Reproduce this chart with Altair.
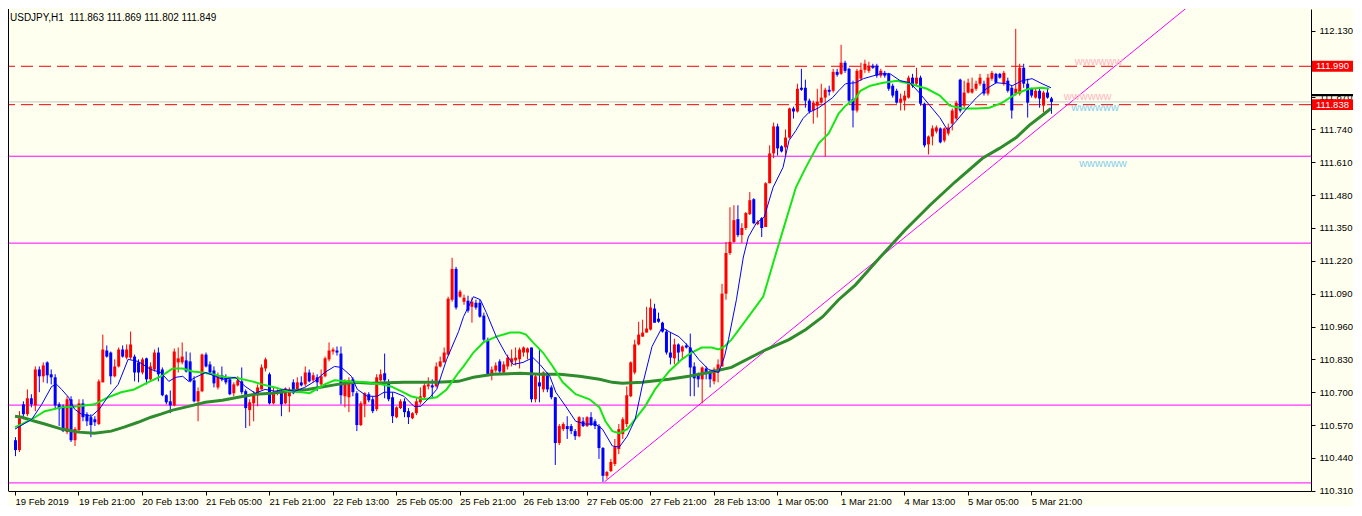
import altair as alt
import pandas as pd

# ---------------- data (USDJPY H1, bar 0 = 19 Feb 2019 05:00) ----------------
OPEN = [
110.510,110.471,110.652,110.613,110.676,110.648,110.790,110.763,110.818,110.771,
110.759,110.652,110.644,110.542,110.672,110.510,110.550,110.656,110.613,110.601,
110.593,110.574,110.739,110.865,110.857,110.763,110.802,110.869,110.837,110.837,
110.841,110.818,110.778,110.834,110.751,110.790,110.857,110.790,110.688,110.664,
110.648,110.818,110.818,110.826,110.822,110.747,110.664,110.704,110.849,110.810,
110.786,110.719,110.767,110.759,110.751,110.696,110.727,110.743,110.704,110.629,
110.656,110.688,110.711,110.794,110.771,110.656,110.696,110.700,110.656,110.684,
110.739,110.700,110.739,110.731,110.778,110.747,110.759,110.731,110.763,110.830,
110.861,110.865,110.853,110.684,110.680,110.751,110.696,110.570,110.652,110.692,
110.672,110.633,110.747,110.775,110.739,110.680,110.601,110.637,110.664,110.625,
110.597,110.617,110.660,110.680,110.723,110.727,110.723,110.802,110.818,110.849,
111.066,111.188,111.078,111.058,111.062,111.038,111.054,111.054,111.003,110.908,
110.771,110.786,110.822,110.778,110.802,110.818,110.826,110.830,110.857,110.857,
110.877,110.672,110.739,110.711,110.767,110.719,110.680,110.499,110.554,110.566,
110.566,110.546,110.526,110.585,110.566,110.601,110.585,110.566,110.479,110.369,
110.388,110.416,110.475,110.534,110.574,110.684,110.778,110.889,110.920,110.936,
110.948,111.031,110.991,110.975,110.940,110.857,110.834,110.889,110.861,110.885,
110.877,110.802,110.771,110.751,110.794,110.782,110.743,110.778,110.802,111.090,
111.251,111.295,111.385,111.322,111.350,111.405,111.464,111.365,111.389,111.354,
111.527,111.645,111.752,111.673,111.669,111.708,111.823,111.811,111.905,111.905,
111.854,111.815,111.834,111.846,111.866,111.897,111.893,111.968,111.960,112.004,
111.980,111.860,111.815,111.941,111.976,111.972,111.992,111.992,111.953,111.964,
111.960,111.913,111.893,111.846,111.854,111.866,111.945,111.921,111.945,111.842,
111.681,111.712,111.732,111.744,111.696,111.724,111.763,111.783,111.937,111.834,
111.886,111.886,111.901,111.921,111.921,111.882,111.941,111.960,111.960,111.921,
111.933,111.905,111.882,111.882,111.984,111.921,111.901,111.866,111.893,111.834,
111.886,111.863]
HIGH = [
110.522,110.625,110.664,110.711,110.692,110.802,110.802,110.818,110.822,110.790,
110.771,110.660,110.652,110.684,110.684,110.562,110.672,110.672,110.621,110.613,
110.605,110.751,110.928,110.885,110.861,110.830,110.877,110.885,110.889,110.940,
110.849,110.830,110.837,110.837,110.818,110.869,110.877,110.798,110.692,110.707,
110.873,110.877,110.897,110.861,110.857,110.763,110.719,110.853,110.857,110.822,
110.802,110.778,110.802,110.771,110.759,110.739,110.763,110.798,110.711,110.672,
110.704,110.731,110.810,110.837,110.778,110.719,110.711,110.711,110.719,110.719,
110.751,110.759,110.763,110.802,110.790,110.778,110.771,110.790,110.841,110.897,
110.877,110.881,110.881,110.751,110.759,110.759,110.704,110.664,110.700,110.700,
110.684,110.771,110.790,110.853,110.751,110.700,110.644,110.672,110.676,110.637,
110.621,110.680,110.719,110.743,110.759,110.751,110.818,110.841,110.877,111.078,
111.232,111.196,111.105,111.086,111.082,111.074,111.066,111.066,111.015,110.916,
110.802,110.818,110.830,110.822,110.849,110.869,110.877,110.877,110.881,110.877,
110.877,110.771,110.869,110.782,110.778,110.727,110.680,110.574,110.581,110.605,
110.574,110.554,110.605,110.601,110.605,110.621,110.593,110.574,110.483,110.388,
110.436,110.515,110.574,110.601,110.723,110.822,110.908,110.979,110.987,111.038,
111.070,111.050,111.015,110.979,110.948,110.936,110.912,110.893,110.885,110.893,
110.932,110.818,110.778,110.802,110.802,110.786,110.798,110.830,111.129,111.295,
111.432,111.440,111.440,111.369,111.413,111.492,111.468,111.381,111.393,111.531,
111.677,111.767,111.763,111.677,111.740,111.826,111.830,111.921,111.980,111.937,
111.862,111.854,111.901,111.921,111.905,111.913,111.980,111.980,112.075,112.012,
111.984,111.933,111.980,112.004,112.016,112.008,112.000,112.000,111.980,111.972,
111.964,111.921,111.901,111.882,111.893,111.953,111.960,111.984,111.953,111.846,
111.716,111.756,111.756,111.748,111.748,111.763,111.823,111.854,111.941,111.933,
111.941,111.945,111.933,111.960,111.933,111.960,111.972,111.964,111.964,111.972,
111.945,111.913,112.138,112.000,112.000,111.941,111.905,111.901,111.901,111.893,
111.905,111.869]
LOW = [
110.447,110.463,110.593,110.605,110.640,110.625,110.700,110.739,110.735,110.731,
110.633,110.566,110.542,110.534,110.503,110.487,110.542,110.585,110.566,110.522,
110.566,110.570,110.739,110.837,110.731,110.759,110.798,110.837,110.830,110.830,
110.743,110.739,110.771,110.731,110.743,110.782,110.743,110.684,110.652,110.617,
110.644,110.778,110.810,110.778,110.739,110.660,110.585,110.700,110.798,110.771,
110.719,110.711,110.743,110.731,110.688,110.684,110.723,110.692,110.558,110.566,
110.585,110.644,110.711,110.782,110.652,110.652,110.688,110.605,110.652,110.621,
110.692,110.696,110.723,110.723,110.739,110.739,110.704,110.723,110.759,110.822,
110.849,110.845,110.652,110.640,110.621,110.684,110.546,110.566,110.601,110.660,
110.617,110.625,110.743,110.676,110.664,110.578,110.597,110.633,110.601,110.574,
110.593,110.609,110.652,110.676,110.711,110.680,110.719,110.798,110.818,110.845,
111.058,111.027,111.074,111.046,111.015,110.975,111.027,110.995,110.900,110.763,
110.747,110.778,110.771,110.771,110.790,110.802,110.806,110.794,110.841,110.830,
110.660,110.660,110.660,110.700,110.700,110.672,110.412,110.491,110.546,110.515,
110.534,110.511,110.522,110.562,110.562,110.566,110.554,110.436,110.345,110.357,
110.384,110.408,110.455,110.515,110.562,110.680,110.771,110.885,110.920,110.936,
110.944,110.975,110.975,110.936,110.849,110.810,110.810,110.814,110.830,110.873,
110.684,110.684,110.719,110.656,110.751,110.719,110.731,110.739,110.802,111.066,
111.243,111.291,111.314,111.291,111.342,111.401,111.365,111.361,111.314,111.354,
111.527,111.626,111.637,111.649,111.637,111.704,111.783,111.807,111.893,111.826,
111.803,111.763,111.787,111.842,111.633,111.874,111.886,111.949,111.956,111.964,
111.846,111.748,111.807,111.933,111.964,111.964,111.980,111.945,111.945,111.945,
111.893,111.866,111.842,111.815,111.815,111.862,111.905,111.913,111.834,111.669,
111.641,111.677,111.724,111.685,111.689,111.716,111.736,111.775,111.807,111.826,
111.882,111.882,111.893,111.913,111.874,111.874,111.933,111.921,111.941,111.913,
111.886,111.783,111.874,111.874,111.905,111.787,111.866,111.862,111.826,111.807,
111.862,111.802]
CLOSE = [
110.471,110.597,110.613,110.676,110.652,110.790,110.763,110.806,110.767,110.759,
110.648,110.633,110.546,110.672,110.510,110.554,110.656,110.601,110.585,110.570,
110.581,110.743,110.869,110.841,110.763,110.802,110.869,110.841,110.869,110.889,
110.778,110.778,110.830,110.751,110.802,110.857,110.771,110.688,110.660,110.648,
110.861,110.834,110.841,110.782,110.743,110.664,110.704,110.849,110.802,110.778,
110.735,110.763,110.751,110.739,110.692,110.731,110.747,110.700,110.637,110.660,
110.692,110.719,110.798,110.830,110.656,110.700,110.704,110.652,110.715,110.711,
110.696,110.739,110.727,110.778,110.743,110.767,110.739,110.763,110.834,110.865,
110.869,110.857,110.688,110.743,110.747,110.700,110.570,110.656,110.696,110.668,
110.625,110.759,110.771,110.747,110.672,110.605,110.640,110.664,110.621,110.601,
110.617,110.664,110.684,110.727,110.731,110.719,110.802,110.822,110.857,111.070,
111.188,111.035,111.098,111.074,111.023,111.058,111.035,110.999,110.908,110.771,
110.790,110.806,110.782,110.810,110.837,110.834,110.837,110.869,110.877,110.873,
110.672,110.763,110.723,110.778,110.711,110.680,110.499,110.566,110.574,110.554,
110.546,110.526,110.601,110.566,110.601,110.570,110.566,110.479,110.369,110.384,
110.424,110.483,110.554,110.593,110.688,110.818,110.889,110.928,110.936,110.952,
111.035,110.975,110.979,110.940,110.857,110.837,110.889,110.857,110.881,110.877,
110.798,110.755,110.751,110.798,110.778,110.751,110.790,110.810,111.090,111.251,
111.295,111.381,111.322,111.350,111.409,111.460,111.369,111.373,111.350,111.527,
111.645,111.752,111.665,111.653,111.708,111.823,111.811,111.901,111.897,111.854,
111.811,111.846,111.850,111.866,111.897,111.889,111.968,111.956,112.004,111.972,
111.854,111.815,111.972,111.976,112.000,111.992,111.984,111.953,111.972,111.953,
111.901,111.874,111.846,111.862,111.874,111.945,111.913,111.945,111.842,111.677,
111.712,111.744,111.748,111.689,111.744,111.748,111.815,111.846,111.815,111.886,
111.925,111.901,111.921,111.945,111.882,111.945,111.964,111.925,111.945,111.964,
111.893,111.815,111.901,111.984,111.921,111.846,111.874,111.893,111.862,111.886,
111.866,111.849]

# moving averages sampled along the picture (bar index, price)
MA_FAST_IDX = [0,4.25,6.75,9.25,10.5,11.75,13.5,15,16.75,19.25,21.25,23.5,26,28.5,31,34.25,36.75,38.75,40.5,42.25,
               43.75,45.5,48,50.5,52.25,55.5,58,60.5,63,65.5,68,70.5,73,75.5,78,80.5,82.25,84.75,86.25,88.75,
               91.25,93,95.5,98,100.5,102.25,104.75,106.25,108.75,111.75,113,115.5,117.25,118.75,121.25,123.75,125.5,128,130.5,132.25,
               134.75,136.25,138.75,141.25,143.75,146.25,148,150.5,152.25,154.25,156.25,158,160.5,163,164.75,167.25,169.75,172.25,174.75,177.25,
               178.75,179.75,181.75,183.5,184.75,186.75,188.75,191,193.5,195,196.75,198.5,200,202.5,204.25,206,207.5,209.25,211.75,213.75,
               218,220.5,223,225.5,228,230.5,233,235,237.25,239.75,242.25,244.75,247.25,249.75,251.25,253.75,256.25,258.75,261]
MA_FAST_VAL = [110.554,110.593,110.652,110.723,110.731,110.711,110.680,110.633,110.613,110.605,110.633,110.684,110.731,110.830,110.822,110.790,110.778,110.743,110.759,110.763,
               110.743,110.759,110.778,110.763,110.751,110.759,110.723,110.696,110.711,110.704,110.711,110.704,110.719,110.743,110.778,110.802,110.798,110.763,110.711,110.684,
               110.684,110.700,110.700,110.684,110.644,110.644,110.684,110.711,110.830,110.940,110.999,111.078,111.066,111.015,110.920,110.849,110.810,110.818,110.837,110.810,
               110.763,110.700,110.644,110.585,110.574,110.574,110.554,110.487,110.483,110.526,110.593,110.723,110.881,110.956,110.940,110.920,110.881,110.830,110.790,110.778,
               110.841,110.908,111.066,111.235,111.314,111.369,111.393,111.511,111.590,111.696,111.736,111.783,111.807,111.826,111.846,111.866,111.893,111.921,111.925,111.941,
               111.960,111.960,111.933,111.925,111.882,111.834,111.787,111.736,111.775,111.823,111.866,111.901,111.925,111.921,111.913,111.933,111.941,111.921,111.905]
MA_MID_IDX = [0,1.75,4.25,7.5,11.75,16,20,23.5,26.75,30,33.5,36.75,39.75,42.25,44.75,47.25,49.75,53,56.25,59.75,
              62.25,65.5,68.75,72.25,74.25,78,80.5,83.75,88,92.25,94.75,97.25,99.75,103,106.25,108.75,111.75,113,115.5,118,
              121.25,124.75,127.25,128.75,130.5,133,135.5,138,141.25,144.75,147.25,148.75,150.5,152.25,154.25,156.25,158.75,161.25,164.75,168,
              170.5,173,175.5,177.25,178.75,180.5,184.25,188.5,191.75,194.25,196.75,199.25,202.5,205,207.5,209.25,211.75,213,215.5,218.75,
              222.25,225.5,229.75,233,235.5,238.75,242.25,245.5,248.75,252.25,255.5,258.75,260.5]
MA_MID_VAL = [110.562,110.574,110.593,110.625,110.640,110.644,110.652,110.680,110.700,110.711,110.739,110.763,110.794,110.794,110.782,110.778,110.771,110.759,110.755,110.743,
              110.731,110.719,110.704,110.700,110.696,110.731,110.747,110.743,110.739,110.731,110.723,110.704,110.684,110.672,110.680,110.711,110.778,110.802,110.857,110.897,
              110.920,110.936,110.936,110.928,110.897,110.857,110.802,110.739,110.692,110.672,110.640,110.585,110.546,110.538,110.554,110.593,110.644,110.711,110.782,110.830,
              110.857,110.877,110.877,110.869,110.881,110.908,110.987,111.078,111.251,111.381,111.511,111.590,111.685,111.724,111.803,111.834,111.862,111.893,111.913,111.925,
              111.933,111.921,111.901,111.874,111.834,111.823,111.823,111.826,111.846,111.882,111.901,111.905,111.901]
MA_SLOW_IDX = [0,1.75,5,7.5,11.75,16,20,24.25,27.5,31,34.25,36.75,39.75,43.75,48,52.25,56.25,60.5,64.75,68.75,
               73.75,81.25,85.5,89.75,98,106.25,111.75,115.5,120.5,127.25,132.25,137.25,142.25,147.25,150.5,153,158,164.75,169.75,174.75,
               180.5,189.25,195,199.25,203.5,207.5,211.75,218,224.25,230.5,236.75,243.75,248,252.25,255.5,258.75,261]
MA_SLOW_VAL = [110.605,110.601,110.585,110.574,110.554,110.542,110.538,110.546,110.562,110.581,110.601,110.613,110.629,110.644,110.660,110.668,110.680,110.692,110.696,110.704,
               110.711,110.731,110.739,110.735,110.739,110.739,110.743,110.759,110.771,110.775,110.771,110.771,110.763,110.751,110.739,110.735,110.739,110.751,110.763,110.778,
               110.798,110.869,110.908,110.948,110.999,111.066,111.125,111.235,111.342,111.440,111.531,111.626,111.665,111.708,111.756,111.795,111.823]

TIME_LABELS = ["19 Feb 2019", "19 Feb 21:00", "20 Feb 13:00", "21 Feb 05:00", "21 Feb 21:00",
               "22 Feb 13:00", "25 Feb 05:00", "25 Feb 21:00", "26 Feb 13:00", "27 Feb 05:00",
               "27 Feb 21:00", "28 Feb 13:00", "1 Mar 05:00", "1 Mar 21:00", "4 Mar 13:00",
               "5 Mar 05:00", "5 Mar 21:00"]
# 112.000 sits fully under the 111.990 tag in the reference, so it is not listed
PRICE_TICKS = [110.31, 110.44, 110.57, 110.70, 110.83, 110.96, 111.09, 111.22, 111.35,
               111.48, 111.61, 111.74, 111.87, 112.13]
MAGENTA_LEVELS = [111.634, 111.290, 110.649, 110.341]
DASHED_LEVELS = [111.990, 111.838]
BID_LEVEL = 111.849
ASK_MARK_LEVEL = 111.876
TREND_IDX = [148.5, 297.25]
TREND_VAL = [110.345, 112.248]
TITLE_TEXT = "USDJPY,H1\u00a0\u00a0111.863 111.869 111.802 111.849"
MARK_TEXT = ["wwwwww", "wwwwww", "wwwwww", "wwwwww"]
MARK_IDX = [273.0, 270.25, 272.1, 274.1]
MARK_VAL = [112.008, 111.868, 111.826, 111.604]
MARK_KIND = ["pink", "pink", "blue", "blue"]

# ---------------- layout ----------------
W, H = 1303, 482
FONT = "Liberation Sans"
BG = "#FFFFF0"
xs = alt.Scale(domain=[-0.5, 325.25], nice=False, zero=False)
ys = alt.Scale(domain=[110.309, 112.2167], nice=False, zero=False)

n = min(len(OPEN), len(HIGH), len(LOW), len(CLOSE))
candles = pd.DataFrame({"i": list(range(n)), "open": OPEN[:n], "high": HIGH[:n],
                        "low": LOW[:n], "close": CLOSE[:n]})
candles["dir"] = ["up" if c >= o else "down" for o, c in zip(candles["open"], candles["close"])]

def ma_df(ix, vals):
    m = min(len(ix), len(vals))
    return pd.DataFrame({"i": ix[:m], "v": vals[:m]})

labels_js = "[" + ",".join("'" + s + "'" for s in TIME_LABELS) + "]"
x_axis = alt.Axis(values=list(range(0, 16 * len(TIME_LABELS), 16)),
                  labelExpr=labels_js + "[round(datum.value / 16)]",
                  labelAlign="left", labelBaseline="top", labelPadding=1, tickSize=4,
                  labelFont=FONT, labelFontSize=9.5, labelColor="black",
                  domainColor="black", tickColor="black", grid=False, title=None,
                  labelOverlap=False, labelBound=False, labelFlush=False)
y_axis = alt.Axis(orient="right", values=PRICE_TICKS, format=".3f", tickSize=4, labelPadding=4,
                  labelFont=FONT, labelFontSize=9.5, labelColor="black",
                  domainColor="black", tickColor="black", grid=False, title=None,
                  labelOverlap=False, labelBound=False, labelFlush=False)

color_dir = alt.Color("dir:N", scale=alt.Scale(domain=["up", "down"], range=["#FF0000", "#0000FF"]),
                      legend=None)

def X(field="i"):
    return alt.X(f"{field}:Q", scale=xs, axis=x_axis)

def Y(field):
    return alt.Y(f"{field}:Q", scale=ys, axis=y_axis)

magenta = alt.Chart(pd.DataFrame({"p": MAGENTA_LEVELS})).mark_rule(
    color="#FF00FF", strokeWidth=1, clip=True).encode(y=Y("p"))
bid = alt.Chart(pd.DataFrame({"p": [BID_LEVEL]})).mark_rule(
    color="#C8C8C8", strokeWidth=1, clip=True).encode(y=Y("p"))
dashed = alt.Chart(pd.DataFrame({"p": DASHED_LEVELS})).mark_rule(
    color="#EE0000", strokeWidth=1, strokeDash=[12, 6], clip=True).encode(y=Y("p"))
trend = alt.Chart(pd.DataFrame({"i": TREND_IDX, "v": TREND_VAL})).mark_line(
    color="#FF00FF", strokeWidth=1, clip=True).encode(x=X(), y=Y("v"))

wicks = alt.Chart(candles).mark_rule(strokeWidth=1, xOffset=0.5, clip=True).encode(
    x=X(), y=Y("low"), y2="high:Q", color=color_dir)
bodies = alt.Chart(candles).mark_bar(size=3, xOffset=0.5, clip=True).encode(
    x=X(), y=Y("open"), y2="close:Q", color=color_dir)

ma_slow = alt.Chart(ma_df(MA_SLOW_IDX, MA_SLOW_VAL)).mark_line(
    color="#2E8B2E", strokeWidth=3, clip=True).encode(x=X(), y=Y("v"))
ma_mid = alt.Chart(ma_df(MA_MID_IDX, MA_MID_VAL)).mark_line(
    color="#16E616", strokeWidth=2, clip=True).encode(x=X(), y=Y("v"))
ma_fast = alt.Chart(ma_df(MA_FAST_IDX, MA_FAST_VAL)).mark_line(
    color="#0000FF", strokeWidth=1, clip=True).encode(x=X(), y=Y("v"))

marks_df = pd.DataFrame({"i": MARK_IDX, "v": MARK_VAL, "t": MARK_TEXT, "k": MARK_KIND})
pink_marks = alt.Chart(marks_df).transform_filter("datum.k == 'pink'").mark_text(
    color="#FFB6C1", fontSize=11, font=FONT, align="center", baseline="middle").encode(
    x=X(), y=Y("v"), text="t:N")
blue_marks = alt.Chart(marks_df).transform_filter("datum.k == 'blue'").mark_text(
    color="#87CEEB", fontSize=11, font=FONT, align="center", baseline="middle").encode(
    x=X(), y=Y("v"), text="t:N")

title = alt.Chart(pd.DataFrame({"t": [TITLE_TEXT]})).mark_text(
    align="left", baseline="top", fontSize=10, font=FONT, color="black").encode(
    x=alt.value(2), y=alt.value(4), text="t:N")

left_border = alt.Chart(pd.DataFrame({"a": [0]})).mark_rule(color="black", strokeWidth=1).encode(
    x=alt.value(0.5), y=alt.value(0), y2=alt.value(H))

# price tags on the price scale
ask_bar = alt.Chart(pd.DataFrame({"p": [ASK_MARK_LEVEL]})).transform_calculate(
    lo="datum.p - 0.0045", hi="datum.p + 0.0045").mark_rect(color="black").encode(
    x=alt.value(W + 1), x2=alt.value(W + 42), y=Y("lo"), y2="hi:Q")
tags_df = pd.DataFrame({"p": DASHED_LEVELS})
tag_rect = alt.Chart(tags_df).transform_calculate(
    lo="datum.p - 0.0215", hi="datum.p + 0.0215").mark_rect(color="#FF0000").encode(
    x=alt.value(W + 1), x2=alt.value(W + 42), y=Y("lo"), y2="hi:Q")
tag_text = alt.Chart(tags_df).mark_text(
    color="white", fontSize=9.5, font=FONT, align="center", baseline="middle").encode(
    x=alt.value(W + 21.5), y=Y("p"), text=alt.Text("p:Q", format=".3f"))

chart = alt.layer(
    magenta, bid, dashed, trend, wicks, bodies, ma_slow, ma_mid, ma_fast,
    pink_marks, blue_marks, title, left_border, ask_bar, tag_rect, tag_text
).properties(
    width=W, height=H, padding=0, background=BG
).configure_view(
    stroke=None, fill=BG
)

chart.save("out.html", embed_options={"renderer": "svg", "actions": False})
